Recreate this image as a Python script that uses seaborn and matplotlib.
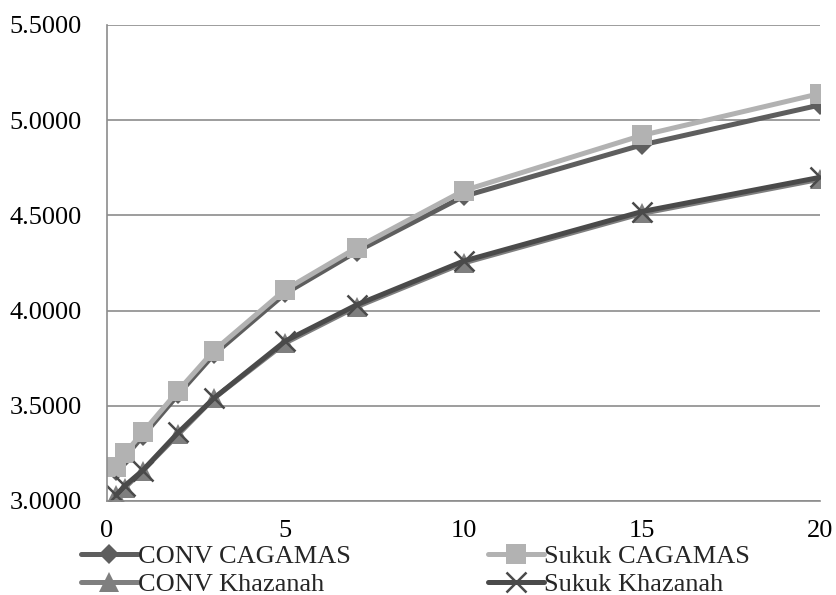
import matplotlib
matplotlib.use("Agg")
import matplotlib.pyplot as plt
import seaborn as sns
import pandas as pd
from matplotlib.ticker import FormatStrFormatter

maturity = [0.25, 0.5, 1, 2, 3, 5, 7, 10, 15, 20]
conv_cagamas = [3.16, 3.23, 3.34, 3.56, 3.77, 4.09, 4.31, 4.60, 4.87, 5.08]
sukuk_cagamas = [3.18, 3.25, 3.36, 3.58, 3.79, 4.11, 4.33, 4.63, 4.92, 5.14]
conv_khazanah = [3.03, 3.07, 3.16, 3.35, 3.54, 3.83, 4.02, 4.25, 4.51, 4.69]
sukuk_khazanah = [3.03, 3.08, 3.16, 3.36, 3.54, 3.84, 4.03, 4.26, 4.52, 4.70]

series_names = ["CONV CAGAMAS", "Sukuk CAGAMAS", "CONV Khazanah", "Sukuk Khazanah"]
series_values = [conv_cagamas, sukuk_cagamas, conv_khazanah, sukuk_khazanah]
colors = ["#5e5e5e", "#b2b2b2", "#7f7f7f", "#4a4a4a"]
markers = ["D", "s", "^", "x"]
msizes = [10, 14.5, 14, 14]

sns.set_style("white")
plt.rcParams["font.family"] = ["Liberation Serif", "DejaVu Serif"]

fig = plt.figure(figsize=(8.36, 5.95), dpi=100)
ax = fig.add_axes([0.128, 0.158, 0.853, 0.8])

rows = []
for name, vals in zip(series_names, series_values):
    for x, y in zip(maturity, vals):
        rows.append({"Maturity": x, "Yield": y, "Series": name})
df = pd.DataFrame(rows)

for name, c, m, ms in zip(series_names, colors, markers, msizes):
    sub = df[df["Series"] == name]
    kw = dict(marker=m, markersize=ms, color=c, linewidth=3.6, label=name)
    if m == "x":
        kw.update(markeredgewidth=1.8, markeredgecolor=c)
    else:
        kw.update(markeredgewidth=0, markerfacecolor=c)
    sns.lineplot(data=sub, x="Maturity", y="Yield", ax=ax, **kw)

ax.set_xlim(0, 20)
ax.set_ylim(3.0, 5.5)
ax.set_xticks([0, 5, 10, 15, 20])
ax.set_yticks([3.0, 3.5, 4.0, 4.5, 5.0, 5.5])
ax.yaxis.set_major_formatter(FormatStrFormatter("%.4f"))
ax.set_xlabel("")
ax.set_ylabel("")
ax.grid(axis="y", color="#8c8c8c", linewidth=1.2)
ax.grid(axis="x", visible=False)
ax.set_axisbelow(True)
for s in ["top", "right"]:
    ax.spines[s].set_visible(False)
for s in ["left", "bottom"]:
    ax.spines[s].set_color("#8c8c8c")
    ax.spines[s].set_linewidth(1.2)
ax.tick_params(axis="both", which="major", labelsize=19, colors="#8c8c8c",
               labelcolor="black", length=5, width=1.2, direction="out")
ax.tick_params(axis="x", pad=9)
ax.tick_params(axis="y", pad=13)
if ax.legend_:
    ax.legend_.remove()

handles, labels = ax.get_legend_handles_labels()
order = [0, 2, 1, 3]
fig.legend([handles[i] for i in order], [labels[i] for i in order],
           loc="lower center", bbox_to_anchor=(0.497, -0.02), ncol=2,
           frameon=False, fontsize=19, handlelength=2.15, handletextpad=0.0,
           columnspacing=5.2, labelspacing=0.18, borderaxespad=0.0)

fig.savefig("out.png", dpi=100)
